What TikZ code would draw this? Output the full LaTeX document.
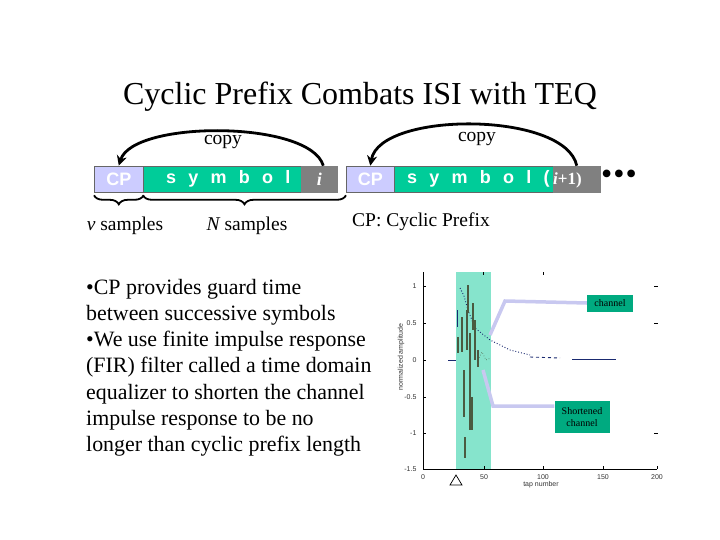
\documentclass[tikz,border=0pt]{standalone}
\usepackage{fontspec}
\setmainfont{Liberation Serif}
\setsansfont{Liberation Sans}
\usetikzlibrary{decorations.pathreplacing,arrows.meta}
\definecolor{lav}{HTML}{CCCCFF}
\definecolor{symg}{HTML}{00CC99}
\definecolor{gbox}{HTML}{808080}
\definecolor{hil}{HTML}{86E4CC}
\definecolor{lblg}{HTML}{00AA80}
\definecolor{leadc}{HTML}{C8C8F0}
\definecolor{chblue}{HTML}{1A2A70}
\definecolor{stemc}{HTML}{4A5A40}
\tikzset{
  seg/.style={draw=black!60,line width=0.6pt,minimum height=26pt,inner sep=0pt,anchor=west},
  cpbox/.style={seg,fill=lav,text=white,font=\sffamily\bfseries\fontsize{18}{18}\selectfont},
  symbox/.style={seg,fill=symg,text=white,font=\sffamily\bfseries\fontsize{18}{18}\selectfont},
  graybox/.style={seg,fill=gbox,draw=gbox,text=white,font=\bfseries\fontsize{18}{18}\selectfont},
  copyarrow/.style={line width=2.8pt,-{Stealth[length=10pt,width=10pt]}},
  bracestyle/.style={decorate,decoration={brace,mirror,amplitude=9pt},line width=1.8pt},
  lbl/.style={font=\fontsize{19.5}{19.5}\selectfont},
  tick/.style={font=\sffamily\fontsize{7}{7}\selectfont,text=black!80},
  tag/.style={fill=lblg,font=\fontsize{10}{12}\selectfont,inner sep=2pt,align=center},
  lead/.style={draw=leadc,line width=3.5pt},
}
\begin{document}
\begin{tikzpicture}[x=1pt,y=-1pt]
\useasboundingbox (0,0) rectangle (720,540);
\fill[white] (0,0) rectangle (720,540);
% title
\node[font=\fontsize{32}{32}\selectfont] (title) at (360,97) {Cyclic Prefix Combats ISI with TEQ};
% symbol bar i
\node[cpbox,minimum width=49pt] (cp1) at (94,179) {CP};
\node[symbox,minimum width=158pt] (sym1) at (143,179) {};
\node[text=white,font=\sffamily\bfseries\fontsize{18}{18}\selectfont,anchor=west,inner sep=0pt] (symtxt1) at (166,179) {\spaceskip=0.68em\relax s y m b o l};
\node[graybox,minimum width=36pt] (gi1) at (301,179) {\itshape i};
% symbol bar i+1
\node[cpbox,minimum width=48pt] (cp2) at (346,179) {CP};
\node[symbox,minimum width=159pt] (sym2) at (394,179) {};
\node[graybox,minimum width=47pt] (gi2) at (553,179) {};
\node[text=white,font=\sffamily\bfseries\fontsize{18}{18}\selectfont,anchor=west,inner sep=0pt] (symtxt2) at (407,179) {\spaceskip=0.68em\relax s y m b o l (\,};
\node[text=white,font=\bfseries\fontsize{17}{17}\selectfont,anchor=west,inner sep=0pt] (ip1) at (553,180) {\itshape i\upshape +1)};
\node[font=\fontsize{32}{32}\selectfont,anchor=west,inner sep=0pt] (dots) at (601,177) {\textbullet\hspace{1pt}\textbullet\hspace{1pt}\textbullet};
% copy arrows
\draw[copyarrow] ([xshift=4pt]gi1.north) .. controls (310,120) and (133,120) .. (cp1.north);
\node[lbl] (copy1) at (223,142) {copy};
\draw[copyarrow] (gi2.north) .. controls (565,111) and (380,111) .. (cp2.north);
\node[lbl] (copy2) at (477,139) {copy};
% braces
\draw[bracestyle] ([yshift=-3pt]cp1.south west) -- ([yshift=-3pt]cp1.south east);
\draw[bracestyle] ([yshift=-3pt]sym1.south west) -- ([yshift=-3pt]cp2.south west);
\node[lbl] (vs) at (125,226) {\itshape v\upshape\ samples};
\node[lbl] (Ns) at (247,226) {\itshape N\upshape\ samples};
\node[lbl] (cpdef) at (421,222) {CP: Cyclic Prefix};
% bullet text
\node[anchor=north west,align=left,inner sep=0pt,font=\fontsize{21.9}{26.2}\selectfont] (body) at (86,279) {%
\textbullet CP provides guard time\\
between successive symbols\\
\textbullet We use finite impulse response\\
(FIR) filter called a time domain\\
equalizer to shorten the channel\\
impulse response to be no\\
longer than cyclic prefix length};
% ---- plot ----
\fill[hil] (456,272) rectangle (491,469);
\draw[black,line width=0.8pt] (423,272) -- (423,469) -- (657,469);
\foreach \yy/\t in {286/1,323/0.5,360/0,397/-0.5,433/-1,469/-1.5}{
  \draw[black,line width=0.5pt] (423,\yy) -- (426,\yy);
  \node[tick,anchor=east] at (420,\yy) {\t};
}
\foreach \xx/\t in {423/0,484/50,543/100,603/150,657/200}{
  \draw[black,line width=0.5pt] (\xx,469) -- (\xx,466);
  \node[tick] at (\xx,477) {\t};
}
\foreach \yy in {286,323,433}{\draw[black,line width=0.6pt] (654,\yy) -- (658,\yy);}
\draw[black,line width=0.6pt] (483,272) -- (483,275);
\draw[black,line width=0.6pt] (543,272) -- (543,275);
\node[tick,rotate=90] (ylab) at (401,357) {normalized amplitude};
\node[tick] (xlab) at (541,485) {tap number};
\draw[black,line width=0.7pt,fill=white] (450,485) -- (456,475) -- (462,485) -- cycle;
% channel (blue, dotted decaying)
\draw[chblue,line width=0.8pt] (448,360) -- (456,360);
\draw[chblue,line width=0.9pt] (457,310) -- (457,327);
\draw[chblue,line width=0.9pt,dotted] (460,288) -- (464,296) -- (468,310) -- (475,328) -- (490,340) -- (510,350) -- (530,355);
\draw[chblue,line width=0.9pt,dashed] (530,357) -- (560,358);
\draw[chblue,line width=1pt] (572,359) -- (616,359);
% shortened channel stems
\foreach \sx/\ya/\yb in {458/337/353,462/317/352,464/370/417,467/310/350,468/285/313,470/333/430,473/303/330,475/320/360,472/397/430,478/350/367}{
  \draw[stemc,line width=1.1pt] (\sx,\ya) -- (\sx,\yb);
}
\draw[stemc,line width=2pt] (465,437) -- (465,458);
\draw[stemc,line width=0.6pt,dotted] (478,360) -- (482,352) -- (486,360) -- (491,358);
% labels with leader lines
\node[tag,minimum width=46pt,minimum height=17pt] (chlab) at (610,303) {channel};
\coordinate (chbend) at (505,301);
\coordinate (chend) at (490,335);
\draw[lead] (chlab.west) -- (chbend) -- (chend);
\node[tag,minimum width=55pt,minimum height=32pt] (shlab) at (582,417) {Shortened\\channel};
\coordinate (shbend) at (493,406);
\coordinate (shend) at (483,370);
\draw[lead] (shlab.west |- shbend) -- (shbend) -- (shend);
\end{tikzpicture}
\end{document}
